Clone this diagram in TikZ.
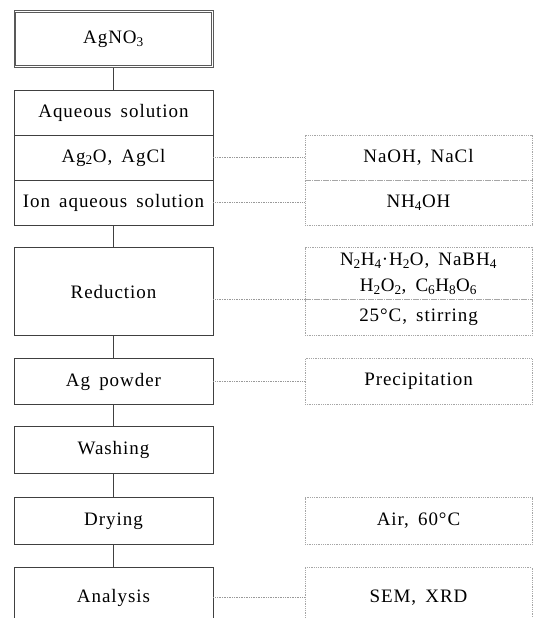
\documentclass[tikz,border=0pt]{standalone}
\usepackage{fontspec}
\setmainfont{Liberation Serif}[LetterSpace=5,WordSpace=1.6]
\usetikzlibrary{positioning}
\tikzset{
    on grid,
    node distance=45pt,
    block/.style = {
        draw=black!75,
        shape=rectangle,
        minimum width=199pt,
        minimum height=45pt,
        inner sep=0pt,
        line width=0.8pt,
        font=\fontsize{19}{26}\selectfont
    },
    twin/.style = {
        block,
        draw=black!65,
        minimum height=57pt
    },
    inset/.style = {draw=black!65, line width=0.8pt},
    extra/.style = {
        block,
        draw=black!35,
        densely dotted,
        line width=0.7pt,
        minimum width=227pt
    },
    pipe/.style = {draw=black!75, line width=0.8pt},
    link/.style = {draw=black!40, densely dotted, line width=0.7pt},
}

\begin{document}
\begin{tikzpicture}
        \clip (0,0) rectangle (536pt,-618pt);
        \node[twin] (agno) at (113.5pt,-39pt) {AgNO\textsubscript{3}};
        \path[inset] ([shift={(2pt,-2pt)}]agno.north west) rectangle ([shift={(-2pt,2pt)}]agno.south east);
        \node[block, below=73.5pt of agno] (aqueous) {Aqueous solution};
        \node[block, below=of aqueous] (agoxide) {Ag\textsubscript{2}O, AgCl};
        \node[block, below=of agoxide] (ion) {Ion aqueous solution};
        \node[block, minimum height=88pt, below=89pt of ion] (reduction) {Reduction};
        \node[block, minimum height=46pt, below=90pt of reduction] (powder) {Ag powder};
        \node[block, minimum height=47pt, below=68.5pt of powder] (washing) {Washing};
        \node[block, minimum height=47pt, below=71pt of washing] (drying) {Drying};
        \node[block, minimum height=60pt, below=76.5pt of drying] (analysis) {Analysis};

        \node[extra, right=305pt of agoxide] (naoh) {NaOH, NaCl};
        \node[extra, right=305pt of ion] (nhoh) {NH\textsubscript{4}OH};
        \node[extra, minimum height=52pt, align=center, above right=18pt and 305pt of reduction] (chema)
            {N\textsubscript{2}H\textsubscript{4}·H\textsubscript{2}O, NaBH\textsubscript{4}\\H\textsubscript{2}O\textsubscript{2}, C\textsubscript{6}H\textsubscript{8}O\textsubscript{6}};
        \node[extra, minimum height=36pt, below=44pt of chema] (chemb) {25°C, stirring};
        \node[extra, minimum height=46pt, right=305pt of powder] (precip) {Precipitation};
        \node[extra, minimum height=47pt, right=305pt of drying] (air) {Air, 60°C};
        \node[extra, minimum height=60pt, right=305pt of analysis] (sem) {SEM, XRD};

        \path[pipe] (agno) -- (aqueous);
        \path[pipe] (ion) -- (reduction);
        \path[pipe] (reduction) -- (powder);
        \path[pipe] (powder) -- (washing);
        \path[pipe] (washing) -- (drying);
        \path[pipe] (drying) -- (analysis);

        \path[link] (agoxide) -- (naoh);
        \path[link] (ion) -- (nhoh);
        \path[link] (reduction.east |- chemb.north) -- (chemb.north west);
        \path[link] (powder) -- (precip);
        \path[link] (analysis) -- (sem);
    \end{tikzpicture}
\end{document}
